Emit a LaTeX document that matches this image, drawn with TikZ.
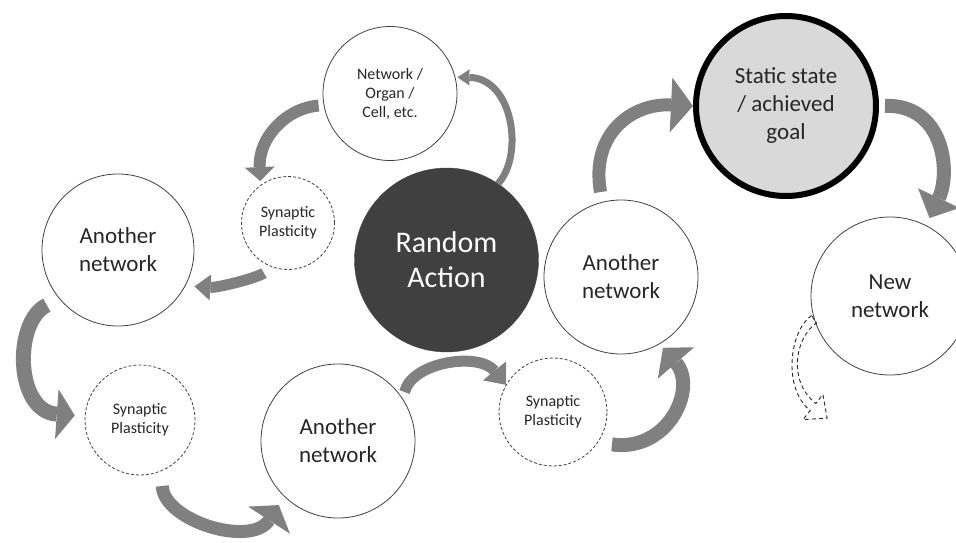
\documentclass[tikz,border=0pt]{standalone}
\usepackage{fontspec}
\setmainfont{Carlito}
\usetikzlibrary{arrows.meta,calc}
\definecolor{arrgray}{HTML}{808080}
\definecolor{darkfill}{HTML}{404040}
\definecolor{goalfill}{HTML}{D9D9D9}
\begin{document}
\begin{tikzpicture}[x=1pt,y=1pt,
  circ/.style={circle,draw=black!75,line width=0.8pt,fill=white,inner sep=0pt,align=center,text=black!85},
  dcirc/.style={circ,dash pattern=on 3pt off 2pt},
  bigtxt/.style={font=\fontsize{23}{28}\selectfont},
  smalltxt/.style={font=\fontsize{16}{19}\selectfont},
  garr/.style={draw=arrgray,line cap=butt},
  outl/.style={line width=0.9pt,draw=black!85,dash pattern=on 4pt off 3pt},
]
\useasboundingbox (0,0) rectangle (956,542);

% nodes
\node[circ,smalltxt,minimum size=134pt] (N) at (390,448.5) {Network /\\Organ /\\Cell, etc.};
\node[dcirc,smalltxt,minimum size=93pt] (S1) at (288,319) {Synaptic\\Plasticity};
\node[circle,fill=darkfill,draw=darkfill,inner sep=0pt,minimum size=184pt,align=center,text=white,font=\fontsize{30}{35}\selectfont] (R) at (446.5,282) {Random\\Action};
\node[circ,bigtxt,minimum size=152pt] (L) at (118,292) {Another\\network};
\node[dcirc,smalltxt,minimum size=110pt] (S2) at (140,122) {Synaptic\\Plasticity};
\node[circ,bigtxt,minimum size=154pt] (B) at (338,101) {Another\\network};
\node[dcirc,smalltxt,minimum size=108pt] (S3) at (553,130) {Synaptic\\Plasticity};
\node[circ,bigtxt,minimum size=154pt] (A) at (621,265) {Another\\network};
\node[circle,draw=black,line width=6pt,fill=goalfill,inner sep=0pt,minimum size=180pt,align=center,text=black!85,bigtxt] (G) at (786,436) {Static state\\/ achieved\\goal};
\node[circ,bigtxt,minimum size=158pt] (W) at (890,246) {New\\network};

% gray curved arrows
\draw[garr,line width=7pt,-{Triangle[width=16pt,length=12pt,line width=0pt]},shorten >=2pt]
  (R.56) .. controls +(26,28) and +(58,-1) .. (N.14);
\draw[garr,line width=12pt,-{Triangle[width=30pt,length=14pt,line width=0pt]},shorten <=5pt,shorten >=4pt]
  (N.190) .. controls +(-38,-3) and +(-2,47) .. (S1.126);
\draw[garr,line width=11pt,-{Triangle[width=26pt,length=16pt,line width=0pt]},shorten <=10pt,shorten >=9pt]
  (S1.250) .. controls +(-15,-11) and +(32,-2) .. (L.-28);
\draw[garr,line width=15pt,-{Triangle[width=50pt,length=18pt,line width=0pt]},shorten <=14pt,shorten >=10pt]
  (L.220) .. controls +(-46,-22) and +(-70,5) .. (S2.176);
\draw[garr,line width=13pt,-{Triangle[width=50pt,length=18pt,line width=0pt]},shorten <=15pt,shorten >=10pt]
  (S2.293) .. controls +(2,-50) and +(-33,-51) .. (B.226);
\draw[garr,line width=11pt,-{Triangle[width=30pt,length=18pt,line width=0pt]},shorten <=7pt]
  (B.33) .. controls +(9,37) and +(-27,33) .. (S3.150);
\draw[garr,line width=14pt,-{Triangle[width=48pt,length=20pt,line width=0pt]},shorten <=14pt,shorten >=5pt]
  (S3.326) .. controls +(70,-10) and +(38,-44) .. (A.300);
\draw[garr,line width=13pt,-{Triangle[width=55pt,length=22pt,line width=0pt]},shorten <=10pt]
  (A.104) .. controls +(-12,67) and +(-62,3) .. (G.180);
\draw[garr,line width=14pt,-{Triangle[width=46pt,length=22pt,line width=0pt]},shorten <=6pt,shorten >=8pt]
  (G.0) .. controls +(65,2) and +(25,53) .. (W.63);

% dashed outline arrow
\coordinate (ts) at (W.197);
\coordinate (hb) at (813,135);
\draw[outl,line join=miter]
  ($(ts)+(-2.5,3.7)$) .. controls ($(ts)+(-24.5,-11.3)$) and ($(hb)+(-30.8,18.5)$) .. ($(hb)+(-2.8,-3.5)$)
  -- ($(hb)+(-9.9,-12.6)$) -- ($(hb)+(14.1,-11.1)$) -- ($(hb)+(9.9,12.6)$) -- ($(hb)+(2.8,3.5)$)
  .. controls ($(hb)+(-25.2,25.5)$) and ($(ts)+(-19.5,-18.7)$) .. ($(ts)+(2.5,-3.7)$) -- cycle;
\end{tikzpicture}
\end{document}
